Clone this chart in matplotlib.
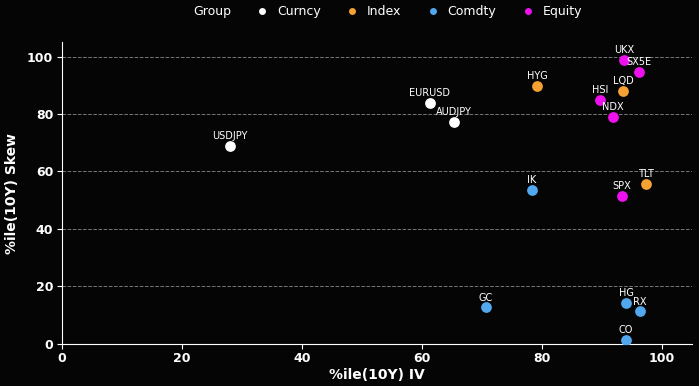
import matplotlib.pyplot as plt
from matplotlib.lines import Line2D

names = ['USDJPY', 'EURUSD', 'AUDJPY', 'HYG', 'LQD', 'TLT', 'IK', 'GC', 'HG', 'RX', 'CO',
         'UKX', 'SX5E', 'HSI', 'NDX', 'SPX']
groups = ['Curncy', 'Curncy', 'Curncy', 'Index', 'Index', 'Index', 'Comdty', 'Comdty', 'Comdty',
          'Comdty', 'Comdty', 'Equity', 'Equity', 'Equity', 'Equity', 'Equity']
iv = [28.0, 61.3, 65.3, 79.2, 93.5, 97.3, 78.3, 70.7, 94.0, 96.3, 94.0, 93.7, 96.2, 89.7, 91.8, 93.3]
skew = [68.9, 83.9, 77.3, 89.9, 88.1, 55.6, 53.5, 12.6, 14.3, 11.2, 1.4, 99.0, 94.8, 85.0, 79.0, 51.4]

group_order = ['Curncy', 'Index', 'Comdty', 'Equity']
colors = {'Curncy': '#ffffff', 'Index': '#f5a133', 'Comdty': '#52a8ee', 'Equity': '#ee11ee'}

bg = '#050505'
fig, ax = plt.subplots(figsize=(6.99, 3.86), dpi=100)
fig.patch.set_facecolor(bg)
ax.set_facecolor(bg)

for g in group_order:
    xs = [x for x, gg in zip(iv, groups) if gg == g]
    ys = [y for y, gg in zip(skew, groups) if gg == g]
    ax.scatter(xs, ys, s=60, color=colors[g], zorder=3, linewidths=0)

for n, x, y in zip(names, iv, skew):
    ax.annotate(n, (x, y), xytext=(0, 3.5), textcoords='offset points',
                ha='center', va='bottom', fontsize=7, color='white', zorder=4)

ax.set_xlim(0, 105)
ax.set_ylim(0, 105)
ax.set_xticks([0, 20, 40, 60, 80, 100])
ax.set_yticks([0, 20, 40, 60, 80, 100])
ax.grid(axis='y', linestyle='--', color='#777777', linewidth=0.7)
ax.set_axisbelow(True)

for s in ['top', 'right']:
    ax.spines[s].set_visible(False)
for s in ['left', 'bottom']:
    ax.spines[s].set_color('white')

ax.tick_params(colors='white', labelsize=9, pad=2.5)
for lab in ax.get_xticklabels() + ax.get_yticklabels():
    lab.set_fontweight('bold')
ax.set_xlabel('%ile(10Y) IV', color='white', fontsize=10, fontweight='bold', labelpad=2)
ax.set_ylabel('%ile(10Y) Skew', color='white', fontsize=10, fontweight='bold', labelpad=6)

handles = [Line2D([], [], linestyle='none', marker='')]
labels = ['Group']
for g in group_order:
    handles.append(Line2D([], [], linestyle='none', marker='o', markersize=5,
                          markerfacecolor=colors[g], markeredgewidth=0))
    labels.append(g)
leg = fig.legend(handles, labels, loc='upper center', bbox_to_anchor=(0.537, 1.015), ncol=5,
                 frameon=False, fontsize=9, handletextpad=0.45, columnspacing=1.75,
                 handlelength=1.5)
for t in leg.get_texts():
    t.set_color('white')

fig.subplots_adjust(left=0.088, right=0.99, bottom=0.11, top=0.89)
fig.savefig('out.png', facecolor=bg)
